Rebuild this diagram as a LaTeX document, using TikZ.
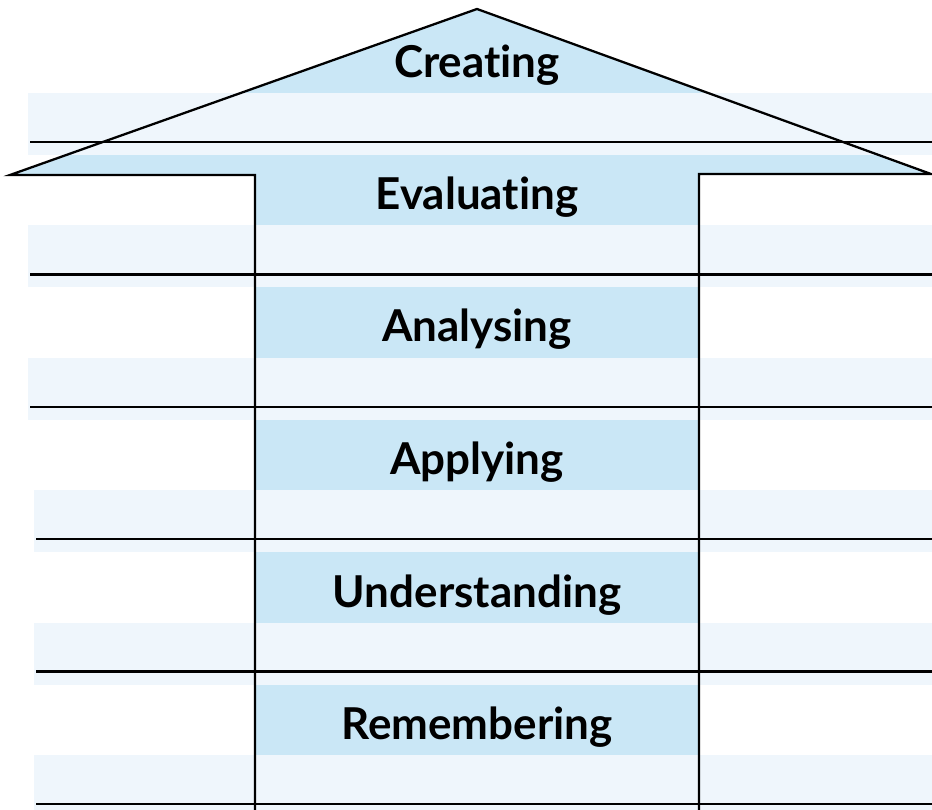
\documentclass[tikz,border=0pt]{standalone}
\usepackage{fontspec}
\setmainfont{Lato}[Ligatures=NoCommon]
\definecolor{bandpale}{RGB}{239,246,252}
\definecolor{banddark}{RGB}{202,231,246}
\tikzset{level/.style={font=\fontsize{25}{29}\selectfont\bfseries,anchor=base,inner sep=0pt}}

\begin{document}
\begin{tikzpicture}[x=0.02cm,y=-0.02cm]
   \useasboundingbox (0,0) rectangle (932,810);
   \fill[banddark] (255,812) -- (255,175) -- (10,175) -- (477,9) -- (931,174) -- (699,174) -- (699,812) -- cycle;
   \foreach \k/\l in {0/28,1/28,2/28,3/34,4/34,5/34}{
    \fill[bandpale] (\l,142+132.4*\k-49) rectangle (932,142+132.4*\k+13);
    \draw[line width=1.3pt] (\l+2,142+132.4*\k) -- (932,142+132.4*\k);
   }
   \draw[line width=1.3pt] (255,812) -- (255,175) -- (10,175) -- (477,9) -- (931,174) -- (699,174) -- (699,812);
   \node[level] (creating) at (477,78) {Creating};
   \node[level] (evaluating) at (477,210) {Evaluating};
   \node[level] (analysing) at (477,342) {Analysing};
   \node[level] (applying) at (477,474) {Applying};
   \node[level] (understanding) at (477,607) {Understanding};
   \node[level] (remembering) at (477,739) {Remembering};
 \end{tikzpicture}
\end{document}
